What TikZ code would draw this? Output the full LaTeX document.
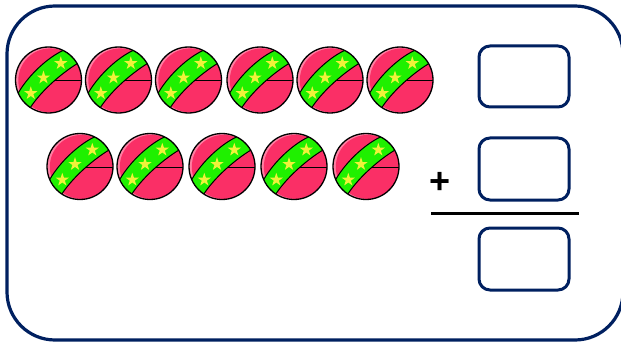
\documentclass[tikz,border=0pt]{standalone}
\usepackage{fontspec}
\setmainfont{Liberation Sans}
\definecolor{navy}{HTML}{002060}
\definecolor{ballred}{HTML}{FA2F66}
\definecolor{balllight}{HTML}{FF7FA3}
\definecolor{bandgreen}{HTML}{1FF000}
\definecolor{stary}{HTML}{EFF23A}
\usetikzlibrary{shapes.geometric}
\tikzset{
  frame/.style={draw=navy,line width=3.2pt,rounded corners=48pt,fill=white},
  answerbox/.style={draw=navy,line width=3pt,rounded corners=11pt,fill=white,minimum width=90pt,minimum height=61pt,inner sep=0pt},
  starmark/.style={star,star points=5,star point ratio=2.6,fill=stary,draw=none,minimum size=14pt,inner sep=0pt},
  ball/.pic={
    \begin{scope}
      \clip (0,0) circle (33);
      \fill[balllight] (0,0) circle (33);
      \fill[ballred] (1.8,0.4) circle (32);
      \draw[black,line width=1pt] (5,0.7) -- (33,0.7);
      \fill[bandgreen,draw=black,line width=1pt] (-33,15) -- (-30,12.5) .. controls (-19,-6) and (0,-23) .. (15.5,-30)
        -- (19,-34) -- (34,-22) -- (29,-16.5) .. controls (15,-8) and (-6,9) .. (-18.5,28) -- (-22,34) -- cycle;
    \end{scope}
    \node[starmark] at (-17.7,13.3) {};
    \node[starmark] at (-5,-2.3) {};
    \node[starmark] at (12.3,-16.7) {};
    \draw[black,line width=1.3pt] (0,0) circle (33);
  }
}
\begin{document}
\begin{tikzpicture}[x=1pt,y=-1pt]
\useasboundingbox (0,0) rectangle (621,342);
\begin{scope}
\clip (0,0) rectangle (621,342);
\draw[frame] (7,6) rectangle (623,340);
\end{scope}
\foreach \n/\x in {a/48.5,b/118.5,c/188.5,d/260,e/330,f/400}
  \pic (ball\n) at (\x,80) {ball};
\foreach \n/\x in {g/80,h/150,i/222,j/294,k/366}
  \pic (ball\n) at (\x,166.5) {ball};
\node[answerbox] (top) at (524,76.5) {};
\node[answerbox,minimum height=62pt] (mid) at (524,169) {};
\node[answerbox,minimum height=62pt] (res) at (524,259) {};
\coordinate (ruleL) at (431,213);
\coordinate (ruleR) at (579,213);
\draw[black,line width=3pt] (ruleL) -- (ruleR);
\node[font=\bfseries\fontsize{36}{36}\selectfont,inner sep=0pt] (plus) at (440,183) {+};
\end{tikzpicture}
\end{document}
